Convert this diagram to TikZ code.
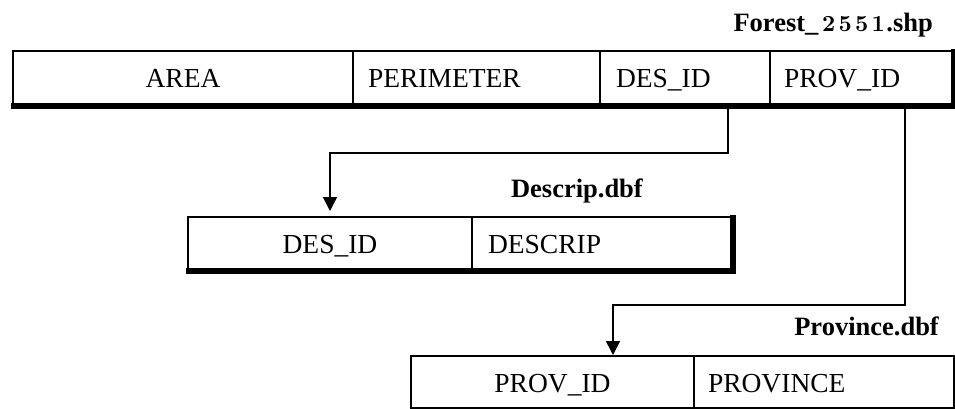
\documentclass[tikz,border=0pt]{standalone}
\usepackage{fontspec}
\setmainfont{Liberation Serif}
\newfontfamily\lmbfont{lmroman10-bold.otf}
\usetikzlibrary{arrows.meta,calc}
\newcommand{\dgbox}[1]{\makebox[16.5pt]{#1}}
\tikzset{
  cell/.style={draw, line width=2pt, anchor=north west, minimum height=53pt,
    inner ysep=0pt, text height=20pt, text depth=0pt,
    font=\fontsize{27.5}{33}\selectfont},
  ccell/.style={cell, inner xsep=0pt, align=center},
  lcell/.style={cell, align=left},
  lbl/.style={inner sep=0pt, anchor=base east, font=\bfseries\fontsize{26.5}{30}\selectfont},
  shadowline/.style={line width=6pt, line join=miter},
  conn/.style={line width=1.6pt, -{Triangle[length=14pt,width=14pt]}}
}
\begin{document}
\begin{tikzpicture}[x=1pt,y=-1pt]
\useasboundingbox (0,0) rectangle (955,409);
% top table
\node[ccell, text width=340pt] (t1) at (12,50) {AREA};
\node[lcell, inner xsep=15pt, text width=217pt] (t2) at (352,50) {PERIMETER};
\node[lcell, inner xsep=16pt, text width=138pt] (t3) at (599,50) {DES\_ID};
\node[lcell, inner xsep=14pt, text width=155pt] (t4) at (769,50) {PROV\_ID};
\draw[shadowline] (11,106) -- (954,106) -- (954,49);
\node[lbl] (lf) at (933,32) {Forest\_\hspace{2pt}{\lmbfont\fontsize{23}{26}\selectfont\dgbox{2}\dgbox{5}\dgbox{5}\dgbox{1}}.shp};
% Descrip table
\node[ccell, minimum height=52pt, text width=284pt] (d1) at (187,216) {DES\_ID};
\node[lcell, minimum height=52pt, inner xsep=16pt, text width=228pt] (d2) at (471,216) {DESCRIP};
\draw[shadowline] (186,271) -- (733,271) -- (733,215);
\node[lbl] (ld) at (643,197) {Descrip.dbf};
% Province table
\node[ccell, minimum height=52pt, text width=283pt] (p1) at (410,355) {PROV\_ID};
\node[lcell, minimum height=52pt, inner xsep=14pt, text width=232pt] (p2) at (693,355) {PROVINCE};
\node[lbl] (lp) at (939,335) {Province.dbf};
% connectors
\coordinate (a1) at (728,106);
\coordinate (a2) at (330,153);
\coordinate (b1) at (905,106);
\coordinate (b2) at (613,305);
\draw[conn, shorten >=5pt] (a1) |- (a2) -- (a2 |- d1.north);
\draw[conn] (b1) |- (b2) -- (b2 |- p1.north);
\end{tikzpicture}
\end{document}
